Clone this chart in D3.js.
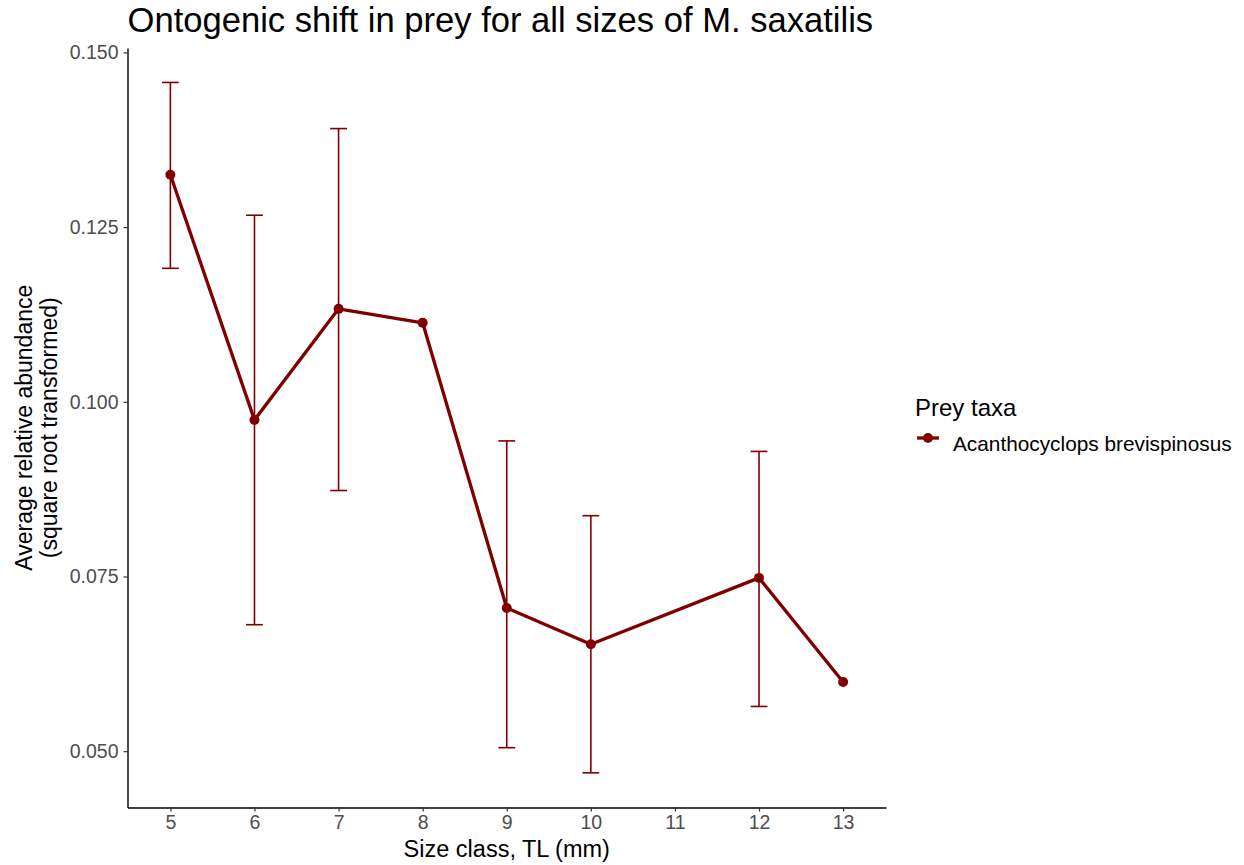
<!DOCTYPE html>
<html>
<head>
<meta charset="utf-8">
<script src="https://cdn.jsdelivr.net/npm/d3@7"></script>
<style>
  html, body { margin: 0; padding: 0; background: #fff; }
  svg { display: block; font-family: "Liberation Sans", Arial, sans-serif; }
</style>
</head>
<body>
<svg id="chart" width="1244" height="865"></svg>
<script>
// Size classes (total length, mm) and mean relative abundance (sqrt transformed)
const sizeClass = [5, 6, 7, 8, 9, 10, 12, 13];
const meanAbund = [0.1325, 0.0974, 0.1133, 0.1113, 0.0705, 0.0653, 0.0748, 0.0599];
// Error bar limits (null where a class has no error bar)
const lowerAbund = [0.1191, 0.0681, 0.0873, null, 0.0505, 0.0469, 0.0564, null];
const upperAbund = [0.1457, 0.1267, 0.1391, null, 0.0944, 0.0837, 0.0929, null];
const xTicks = [5, 6, 7, 8, 9, 10, 11, 12, 13];
const yTicks = [0.050, 0.075, 0.100, 0.125, 0.150];
const taxon = "Acanthocyclops brevispinosus";

const color = "#800000";
const svg = d3.select("#chart");
const margin = { left: 127.5, right: 1244 - 886, top: 48, bottom: 865 - 807.5 };

const x = d3.scaleLinear().domain([4.49, 13.51]).range([margin.left, 1244 - margin.right]);
const y = d3.scaleLinear().domain([0.04194, 0.15063]).range([865 - margin.bottom, margin.top]);

const data = sizeClass.map((s, i) => ({ s, m: meanAbund[i], lo: lowerAbund[i], hi: upperAbund[i] }));

// Axes
const xAxis = svg.append("g")
  .attr("transform", `translate(0,${y.range()[0]})`)
  .call(d3.axisBottom(x).tickValues(xTicks).tickFormat(d3.format("d")).tickSize(4).tickPadding(4).tickSizeOuter(0));
const yAxis = svg.append("g")
  .attr("transform", `translate(${x.range()[0]},0)`)
  .call(d3.axisLeft(y).tickValues(yTicks).tickFormat(d3.format(".3f")).tickSize(4).tickPadding(5).tickSizeOuter(0));
[xAxis, yAxis].forEach(g => {
  g.select(".domain").attr("stroke", "#000").attr("stroke-width", 1.4);
  g.selectAll(".tick line").attr("stroke", "#333").attr("stroke-width", 1.2);
  g.selectAll(".tick text").attr("fill", "#4d4d4d").style("font-size", "19.5px")
   .style("font-family", "Liberation Sans, Arial, sans-serif");
});

// Error bars
const eb = data.filter(d => d.lo !== null);
const capHalf = 0.1;
const ebG = svg.append("g").attr("stroke", color).attr("stroke-width", 1.6).attr("fill", "none");
ebG.selectAll("line.v").data(eb).join("line").attr("class", "v")
  .attr("x1", d => x(d.s)).attr("x2", d => x(d.s)).attr("y1", d => y(d.lo)).attr("y2", d => y(d.hi));
ebG.selectAll("line.t").data(eb).join("line").attr("class", "t")
  .attr("x1", d => x(d.s - capHalf)).attr("x2", d => x(d.s + capHalf)).attr("y1", d => y(d.hi)).attr("y2", d => y(d.hi));
ebG.selectAll("line.b").data(eb).join("line").attr("class", "b")
  .attr("x1", d => x(d.s - capHalf)).attr("x2", d => x(d.s + capHalf)).attr("y1", d => y(d.lo)).attr("y2", d => y(d.lo));

// Mean line and points
svg.append("path").datum(data)
  .attr("fill", "none").attr("stroke", color).attr("stroke-width", 3.3).attr("stroke-linejoin", "round")
  .attr("d", d3.line().x(d => x(d.s)).y(d => y(d.m)));
svg.append("g").selectAll("circle").data(data).join("circle")
  .attr("cx", d => x(d.s)).attr("cy", d => y(d.m)).attr("r", 5).attr("fill", color);

// Title
svg.append("text").attr("x", margin.left).attr("y", 32)
  .style("font-size", "34.6px").attr("fill", "#000")
  .text("Ontogenic shift in prey for all sizes of M. saxatilis");

// Axis titles
svg.append("text").attr("x", (x.range()[0] + x.range()[1]) / 2).attr("y", 857)
  .attr("text-anchor", "middle").style("font-size", "23.5px").attr("fill", "#000")
  .text("Size class, TL (mm)");
const yt = svg.append("text")
  .attr("transform", `translate(0,${(y.range()[0] + y.range()[1]) / 2}) rotate(-90)`)
  .attr("text-anchor", "middle").style("font-size", "23px").attr("fill", "#000");
yt.append("tspan").attr("x", 0).attr("y", 32).text("Average relative abundance");
yt.append("tspan").attr("x", 0).attr("y", 57).text("(square root transformed)");

// Legend
const lg = svg.append("g").attr("transform", "translate(916,0)");
lg.append("text").attr("x", -1).attr("y", 416).style("font-size", "24px").attr("fill", "#000").text("Prey taxa");
lg.append("line").attr("x1", 1).attr("x2", 23).attr("y1", 438).attr("y2", 438)
  .attr("stroke", color).attr("stroke-width", 3.3);
lg.append("circle").attr("cx", 12).attr("cy", 438).attr("r", 5).attr("fill", color);
lg.append("text").attr("x", 37).attr("y", 451).style("font-size", "20.8px").attr("fill", "#000").text(taxon);
</script>
</body>
</html>
